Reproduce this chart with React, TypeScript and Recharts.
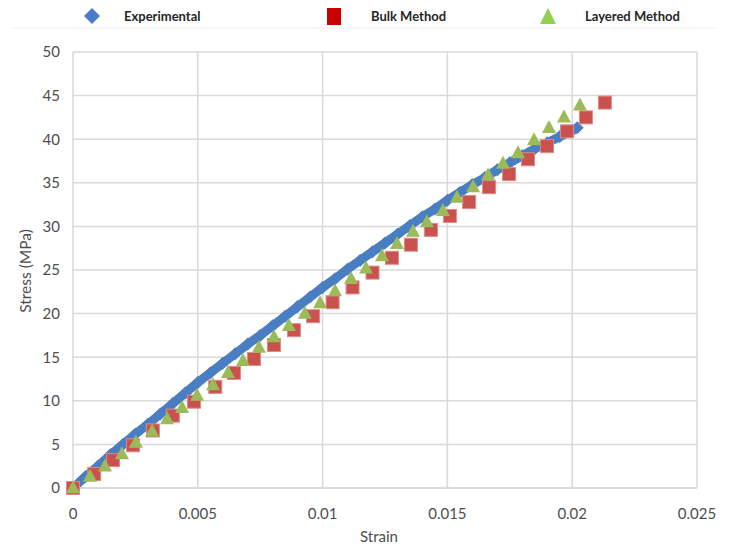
import React from "react"
import { CartesianGrid, Label, Scatter, ScatterChart, XAxis, YAxis } from "recharts"

// experimental curve
const expStrain = [
  0, 0.0005, 0.001, 0.0015, 0.002, 0.0025, 0.003, 0.0035, 0.004, 0.0045, 0.005,
  0.0055, 0.006, 0.0065, 0.007, 0.0075, 0.008, 0.0085, 0.009, 0.0095, 0.01,
  0.0105, 0.011, 0.0115, 0.012, 0.0125, 0.013, 0.0135, 0.014, 0.0145, 0.015,
  0.0155, 0.016, 0.0165, 0.017, 0.0175, 0.018, 0.0185, 0.019, 0.0195, 0.02, 0.0202,
]
const expStress = [
  0, 1.3, 2.5, 3.8, 5.0, 6.2, 7.3, 8.5, 9.7, 10.9, 12.1,
  13.2, 14.3, 15.4, 16.5, 17.5, 18.6, 19.7, 20.8, 21.9, 23.0,
  24.0, 25.1, 26.1, 27.1, 28.1, 29.1, 30.1, 31.1, 32.0, 33.0,
  33.9, 34.8, 35.6, 36.5, 37.3, 38.1, 38.9, 39.6, 40.3, 41.0, 41.3,
]

const bulkStrain = [
  0, 0.00085, 0.0016, 0.0024, 0.0032, 0.004, 0.00485, 0.0057, 0.00645, 0.00725,
  0.00805, 0.00885, 0.00962, 0.0104, 0.0112, 0.012, 0.01278, 0.01354, 0.01434,
  0.0151, 0.01587, 0.01667, 0.01747, 0.01823, 0.01899, 0.01979, 0.02055, 0.02131,
]
const bulkStress = [
  0, 1.6, 3.2, 4.9, 6.6, 8.3, 9.9, 11.6, 13.2, 14.8,
  16.4, 18.1, 19.7, 21.3, 23.0, 24.7, 26.4, 27.9, 29.6,
  31.2, 32.8, 34.5, 36.0, 37.7, 39.2, 40.9, 42.5, 44.2,
]

const layStrain = [
  0, 0.00068, 0.00128, 0.00196, 0.00252, 0.00317, 0.00377, 0.00437, 0.00497,
  0.00561, 0.00621, 0.00681, 0.00745, 0.00805, 0.00865, 0.00929, 0.0099, 0.0105,
  0.01114, 0.01174, 0.01238, 0.01298, 0.01362, 0.01418, 0.01482, 0.01538,
  0.01603, 0.01663, 0.01723, 0.01783, 0.01847, 0.01907, 0.01967, 0.02031,
]
const layStress = [
  0, 1.3, 2.5, 3.9, 5.2, 6.5, 7.9, 9.2, 10.6,
  11.8, 13.2, 14.6, 16.1, 17.3, 18.6, 20.0, 21.2, 22.6,
  24.0, 25.2, 26.6, 28.0, 29.4, 30.5, 31.8, 33.3,
  34.5, 35.9, 37.2, 38.4, 39.9, 41.3, 42.5, 43.9,
]

const xTicks = [0, 0.005, 0.01, 0.015, 0.02, 0.025]
const yTicks = [0, 5, 10, 15, 20, 25, 30, 35, 40, 45, 50]

const BLUE = "#4a7ec2"
const RED = "#c9514e"
const GREEN = "#9bbb59"
const TEXT = "#4d4d4d"
const FONT = "Lato, 'Open Sans', sans-serif"

const toPoints = (xs: number[], ys: number[]) => xs.map((x, i) => ({ x, y: ys[i] }))
const expData = toPoints(expStrain, expStress)
const bulkData = toPoints(bulkStrain, bulkStress)
const layData = toPoints(layStrain, layStress)

const Diamond = (p: any) => {
  const r = 6.5
  return (
    <polygon
      points={`${p.cx},${p.cy - r} ${p.cx + r},${p.cy} ${p.cx},${p.cy + r} ${p.cx - r},${p.cy}`}
      fill={BLUE}
    />
  )
}

const Square = (p: any) => (
  <rect x={p.cx - 6.5} y={p.cy - 6.5} width={13} height={13} fill={RED} stroke="#e08a88" strokeWidth={1} />
)

const Triangle = (p: any) => {
  const h = 13
  return (
    <polygon
      points={`${p.cx},${p.cy - h * 0.6} ${p.cx + 7},${p.cy + h * 0.4} ${p.cx - 7},${p.cy + h * 0.4}`}
      fill={GREEN}
    />
  )
}

const legendText: React.CSSProperties = {
  position: "absolute",
  top: 8,
  fontSize: 13,
  fontWeight: "bold",
  color: "#262626",
  lineHeight: "16px",
}

export default function App() {
  return (
    <div style={{ position: "relative", width: 731, height: 546, fontFamily: FONT, background: "#fff" }}>
      <style>{"body{margin:0}"}</style>
      {/* legend */}
      <svg style={{ position: "absolute", left: 0, top: 0 }} width={731} height={30}>
        <polygon points="92,8 100,16 92,24 84,16" fill="#4a7dc9" />
        <rect x={327} y={8} width={14} height={17} fill="#c80000" />
        <polygon points="548,8 556,24 540,24" fill="#92d050" />
        <line x1={12} y1={28} x2={717} y2={28} stroke="#eeeeee" />
      </svg>
      <div style={{ ...legendText, left: 124 }}>Experimental</div>
      <div style={{ ...legendText, left: 371 }}>Bulk Method</div>
      <div style={{ ...legendText, left: 585 }}>Layered Method</div>

      <ScatterChart width={731} height={546} margin={{ top: 52, right: 34, bottom: 0, left: 0 }}>
        <CartesianGrid stroke="#d9d9d9" strokeWidth={1.5} />
        <XAxis
          type="number"
          dataKey="x"
          domain={[0, 0.025]}
          ticks={xTicks}
          interval={0}
          height={58}
          tickLine={false}
          tickSize={0}
          tickMargin={20}
          axisLine={{ stroke: "#d9d9d9", strokeWidth: 1.5 }}
          tick={{ fill: TEXT, fontSize: 15, fontFamily: FONT }}
        >
          <Label
            content={() => (
              <text x={379} y={536} textAnchor="middle" dominantBaseline="central" fill={TEXT} fontSize={15} fontFamily={FONT}>
                Strain
              </text>
            )}
          />
        </XAxis>
        <YAxis
          type="number"
          dataKey="y"
          domain={[0, 50]}
          ticks={yTicks}
          interval={0}
          width={73}
          tickLine={false}
          tickSize={0}
          tickMargin={13}
          axisLine={false}
          tick={{ fill: TEXT, fontSize: 15, fontFamily: FONT }}
        >
          <Label
            content={() => (
              <text
                transform="translate(25,271) rotate(-90)"
                textAnchor="middle"
                dominantBaseline="central"
                fill={TEXT}
                fontSize={15.5}
                fontFamily={FONT}
              >
                Stress (MPa)
              </text>
            )}
          />
        </YAxis>
        <Scatter
          name="Experimental"
          data={expData}
          shape={Diamond}
          line={{ stroke: BLUE, strokeWidth: 9 }}
          lineType="joint"
          isAnimationActive={false}
        />
        <Scatter name="Bulk Method" data={bulkData} shape={Square} isAnimationActive={false} />
        <Scatter name="Layered Method" data={layData} shape={Triangle} isAnimationActive={false} />
      </ScatterChart>
    </div>
  )
}
